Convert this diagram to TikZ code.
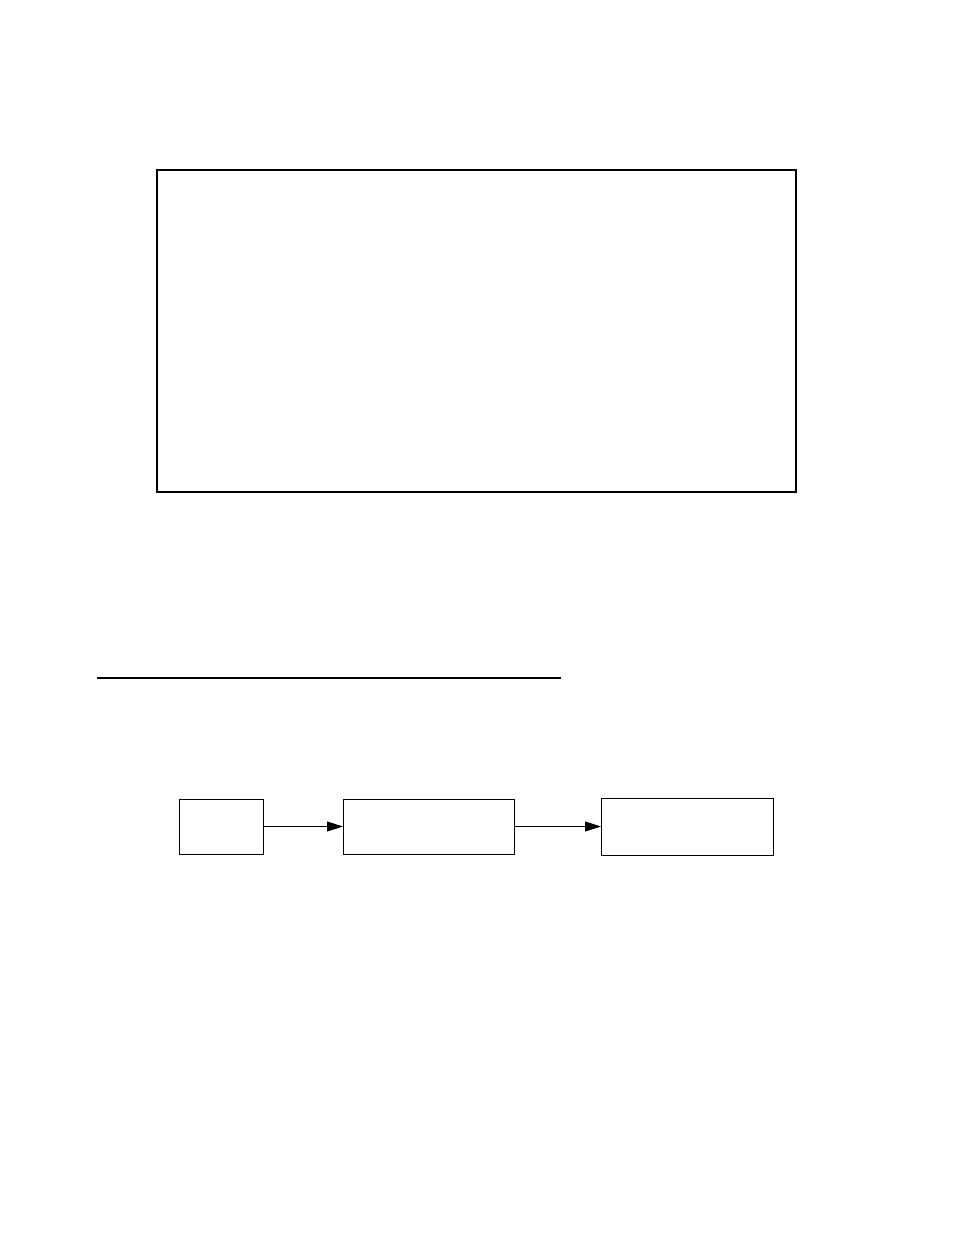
\documentclass[tikz,border=0pt]{standalone}
\usetikzlibrary{arrows.meta}
\begin{document}
\begin{tikzpicture}[x=1pt,y=-1pt,
  frame/.style={draw=black,line width=2pt,inner sep=0pt,outer sep=0pt},
  blk/.style={draw=black,line width=1pt,inner sep=0pt,outer sep=0pt},
  conn/.style={line width=1pt,-{Triangle[length=16pt,width=10pt]}}]
\useasboundingbox[fill=white] (0,0) rectangle (954,1235);
\node[frame,minimum width=639pt,minimum height=322pt] (big) at (476.5,331) {};
\coordinate (l1) at (97,678);
\coordinate (l2) at (561,678);
\draw[line width=1.5pt] (l1) -- (l2);
\node[blk,minimum width=84pt,minimum height=55pt] (a) at (221,826.5) {};
\node[blk,minimum width=171pt,minimum height=55pt] (b) at (428.5,826.5) {};
\node[blk,minimum width=172pt,minimum height=57pt] (c) at (687,826.5) {};
\draw[conn] (a.east) -- (b.west);
\draw[conn] (b.east) -- (c.west);
\end{tikzpicture}
\end{document}
